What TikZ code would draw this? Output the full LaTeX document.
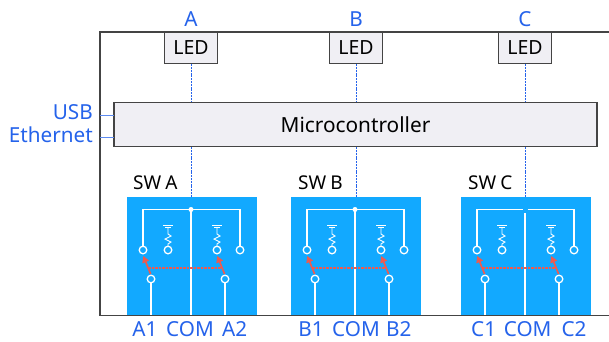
\documentclass[tikz,border=0pt]{standalone}
\usepackage{fontspec}
\setmainfont{Noto Sans}
\usetikzlibrary{arrows.meta}
\definecolor{lblue}{HTML}{2563EB}
\definecolor{swblue}{HTML}{12A9FF}
\definecolor{boxfill}{HTML}{F0EFF4}
\definecolor{redarrow}{HTML}{EE5A4F}
\definecolor{frameg}{HTML}{444444}
\tikzset{
 lab/.style={text=lblue,font=\fontsize{20.7pt}{20.7pt}\selectfont,inner sep=0pt,anchor=base},
 blk/.style={text=black,font=\fontsize{19pt}{19pt}\selectfont,inner sep=0pt,anchor=base},
 ledbox/.style={draw=frameg,line width=1.2pt,fill=boxfill,minimum width=53pt,minimum height=31pt,inner sep=0pt,text=black,font=\fontsize{19.5pt}{19.5pt}\selectfont},
 signal/.style={draw=lblue,line width=0.9pt,dash pattern=on 2pt off 0.8pt},
 stub/.style={draw=lblue!75,line width=1pt},
 wht/.style={draw=white,line width=1.3pt},
 term/.style={circle,draw=white,line width=1.3pt,fill=none,minimum size=7.6pt,inner sep=0pt},
 redd/.style={draw=redarrow,line width=1.4pt,dash pattern=on 2.6pt off 0.9pt},
 reda/.style={draw=redarrow,line width=1.7pt,-{Triangle[length=6.5pt,width=7pt]}},
}
\newcommand{\swunit}[2]{%
 \begin{scope}[shift={(#1,197)}]
 \fill[swblue] (0,0) rectangle (130,118);
 \ifnum#2=1
  \draw[wht] (16,49) -- (16,12.5) -- (113,12.5) -- (113,49);
  \draw[wht] (64,12.5) -- (64,118);
  \fill[white] (64,12.5) circle (2.5);
 \else
  \draw[wht] (16,49) -- (16,12.5) -- (62.3,12.5);
  \draw[wht] (66.7,12.5) -- (113,12.5) -- (113,49);
  \draw[wht] (64,16) -- (64,118);
 \fi
 \foreach \cx in {16,41,90,113}{\node[term] at (\cx,53) {};}
 \foreach \cx in {41,90}{
  \draw[white,line width=1pt] (\cx-4.6,28.7) -- (\cx+4.6,28.7);
  \draw[white,line width=0.8pt] (\cx-3,30.4) -- (\cx+3,30.4);
  \draw[white,line width=0.9pt] (\cx,30.4) -- (\cx,37) -- (\cx+3,39) -- (\cx-3,42) -- (\cx+3,45) -- (\cx,47) -- (\cx,49);
 }
 \node[term] (l) at (24,82) {};
 \node[term] (r) at (98,82) {};
 \draw[wht] (l.south) -- (24,118);
 \draw[wht] (r.south) -- (98,118);
 \draw[redd] (21,71) -- (95,71);
 \draw[reda] (23.6,77) -- (16.3,59);
 \draw[reda] (97.6,77) -- (90.3,59);
 \end{scope}}
\begin{document}
\begin{tikzpicture}[x=1pt,y=-1pt]
\useasboundingbox (0,0) rectangle (609,341);
\fill[white] (0,0) rectangle (609,341);
\coordinate (ftl) at (100,32);
\coordinate (ftr) at (609,32);
\coordinate (fbl) at (100,315.5);
\coordinate (fbr) at (609,315.5);
\swunit{127}{1}
\swunit{291}{1}
\swunit{461}{0}
\draw[frameg,line width=1.2pt] (ftr) -- (ftl) -- (fbl) -- (fbr);
\node[ledbox] (la) at (191,48) {LED};
\node[ledbox] (lb) at (356,48) {LED};
\node[ledbox] (lc) at (525,48) {LED};
\node[draw=frameg,line width=1.2pt,fill=boxfill,minimum width=483pt,minimum height=44pt,inner sep=0pt,font=\fontsize{20.8pt}{20.8pt}\selectfont] (mc) at (355.5,124.5) {Microcontroller};
\draw[signal] (la.south) -- (la |- mc.north);
\draw[signal] (lb.south) -- (lb |- mc.north);
\draw[signal] (lc.south) -- (lc |- mc.north);
\coordinate (sa) at (191,197);
\coordinate (sb) at (356,197);
\coordinate (sc) at (525,197);
\draw[signal] (sa |- mc.south) -- (sa);
\draw[signal] (sb |- mc.south) -- (sb);
\draw[signal] (sc |- mc.south) -- (sc);
\coordinate (u1) at (100,115);
\coordinate (u2) at (114,115);
\coordinate (e1) at (100,137);
\coordinate (e2) at (114,137);
\draw[stub] (u1) -- (u2);
\draw[stub] (e1) -- (e2);
\node[lab] (ta) at (191,26) {A};
\node[lab] (tb) at (356,26) {B};
\node[lab] (tc) at (525,26) {C};
\node[lab,anchor=base east] (usb) at (93,119) {USB};
\node[lab,anchor=base east] (eth) at (93,142) {Ethernet};
\node[blk,anchor=base west] (swa) at (133,189) {SW\kern-0.05em\ A};
\node[blk,anchor=base west] (swb) at (298,189) {SW\kern-0.05em\ B};
\node[blk,anchor=base west] (swc) at (468,189) {SW\kern-0.05em\ C};
\node[lab] (a1) at (145,336) {A1};
\node[lab] (ac) at (190,336) {COM};
\node[lab] (a2) at (234.6,336) {A2};
\node[lab] (b1) at (311,336) {B1};
\node[lab] (bc) at (356,336) {COM};
\node[lab] (b2) at (398.8,336) {B2};
\node[lab] (c1) at (483.7,336) {C1};
\node[lab] (cc) at (527.7,336) {COM};
\node[lab] (c2) at (574,336) {C2};
\end{tikzpicture}
\end{document}
